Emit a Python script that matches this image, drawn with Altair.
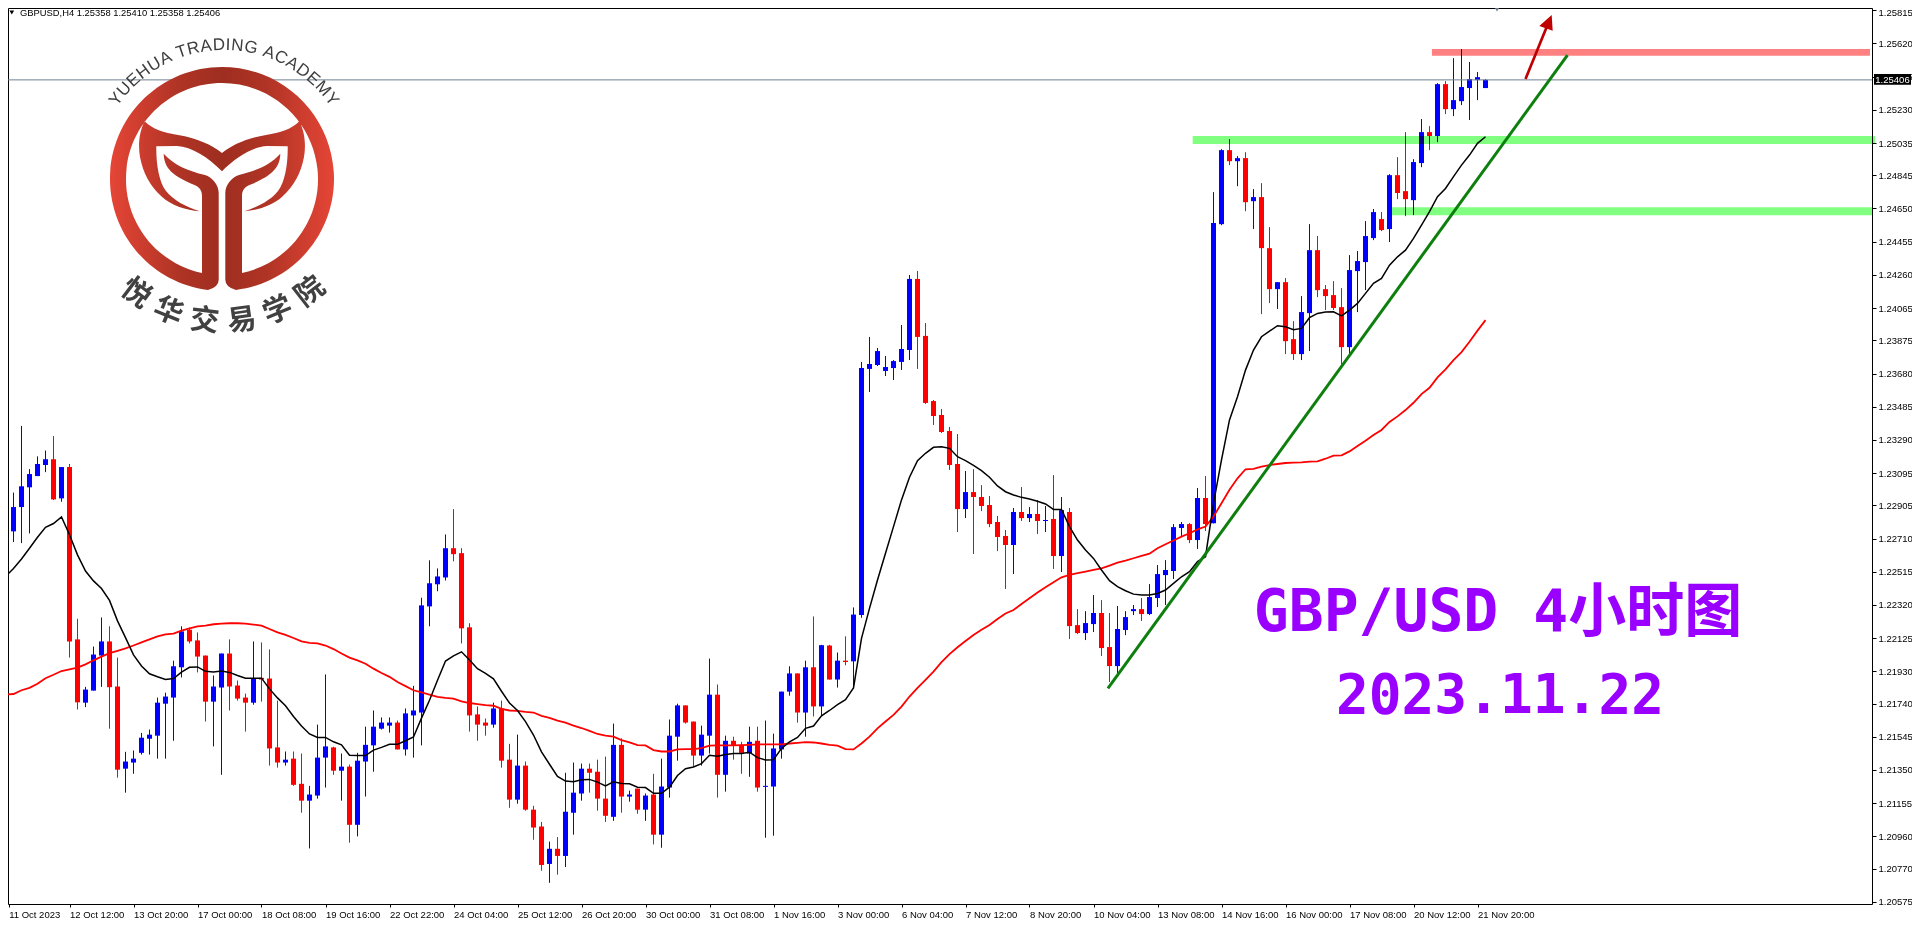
import math
import re

import altair as alt
import numpy as np
import pandas as pd

# GBPUSD H4 candles, prices in points (1/100000)
opens = [
    122924, 122752, 122895, 123011, 123077, 123142, 123176, 122946, 123130, 122117, 121745, 121816,
    122022, 122105, 121840, 121357, 121393, 121450, 121533, 121551, 121739, 121775, 121953, 122174,
    122111, 122022, 121751, 121834, 122034, 121846, 121775, 121745, 121891, 121887, 121482, 121393,
    121416, 121268, 121169, 121199, 121422, 121482, 121345, 121369, 121027, 121399, 121494, 121592,
    121610, 121628, 121470, 121670, 121687, 122311, 122441, 122481, 122653, 122624, 122188, 121676,
    121628, 121616, 121711, 121410, 121175, 121375, 121116, 121017, 120797, 120886, 120844, 121098,
    121211, 121357, 121339, 121181, 121074, 121497, 121193, 121240, 121116, 121205, 120969, 121246,
    121545, 121729, 121634, 121434, 121551, 121792, 121321, 121521, 121497, 121446, 121521, 121250,
    121252, 121470, 121810, 121917, 121687, 121953, 121723, 122081, 121881, 121992, 121988, 122260,
    123707, 123730, 123695, 123712, 123748, 123818, 124236, 123901, 123518, 123436, 123342, 123148,
    122883, 122983, 122954, 122907, 122807, 122725, 122672, 122866, 122830, 122854, 122813, 122825,
    122607, 122866, 122201, 122154, 122207, 122272, 122072, 121960, 122172, 122283, 122295, 122266,
    122360, 122495, 122519, 122772, 122795, 122701, 122948, 122799, 124558, 124993, 124928, 124946,
    124693, 124717, 124417, 124176, 124217, 123882, 123794, 124035, 124405, 124176, 124141, 124070,
    123835, 124282, 124335, 124476, 124588, 124529, 124846, 124752, 124699, 124917, 125099, 125076,
    125381, 125234, 125281, 125358, 125405, 125358,
]
highs = [
    123039, 122980, 123372, 123118, 123193, 123227, 123312, 123130, 123148, 122238, 121838, 122075,
    122246, 122194, 122010, 121456, 121464, 121567, 121587, 121775, 121804, 121992, 122194, 122186,
    122158, 122022, 121905, 122034, 122117, 121875, 121798, 122105, 122099, 122058, 121757, 121458,
    121458, 121446, 121256, 121616, 121911, 121486, 121446, 121381, 121450, 121604, 121699, 121658,
    121658, 121640, 121711, 121844, 122362, 122582, 122534, 122734, 122883, 122653, 122212, 121723,
    121652, 121745, 121757, 121503, 121557, 121399, 121139, 121044, 120928, 120955, 121333, 121393,
    121387, 121387, 121410, 121428, 121622, 121535, 121228, 121240, 121211, 121327, 121416, 121646,
    121739, 121729, 121634, 121610, 122004, 121852, 121551, 121545, 121515, 121604, 121604, 121640,
    121563, 121810, 121959, 121917, 121992, 122252, 122085, 122085, 122040, 122135, 122305, 123748,
    123895, 123830, 123783, 123759, 123965, 124259, 124283, 123977, 123524, 123471, 123366, 123324,
    123107, 123118, 123024, 122960, 122842, 122760, 122889, 123013, 122895, 122936, 122901, 123083,
    122954, 122889, 122295, 122283, 122378, 122348, 122272, 122313, 122283, 122319, 122360, 122442,
    122554, 122583, 122795, 122807, 122801, 123007, 123077, 124746, 124999, 125058, 124958, 124981,
    124764, 124799, 124541, 124217, 124241, 123988, 124135, 124558, 124488, 124200, 124223, 124182,
    124376, 124400, 124576, 124647, 124629, 124852, 124952, 125099, 124940, 125176, 125134, 125387,
    125399, 125534, 125587, 125511, 125452, 125410,
]
lows = [
    122693, 122689, 122683, 122740, 123077, 123100, 122936, 122926, 122010, 121705, 121719, 121816,
    121838, 121592, 121304, 121216, 121327, 121440, 121440, 121416, 121416, 121521, 121893, 122093,
    121923, 121634, 121488, 121321, 121699, 121757, 121575, 121733, 121751, 121375, 121363, 121375,
    121256, 121098, 120888, 121181, 121246, 121321, 121169, 120922, 120959, 121193, 121339, 121587,
    121569, 121470, 121434, 121422, 121494, 122194, 122400, 122463, 122576, 122093, 121575, 121521,
    121551, 121598, 121363, 121127, 121151, 121110, 120939, 120757, 120686, 120734, 120779, 120969,
    121169, 121216, 121110, 121044, 121050, 121098, 121163, 121092, 121050, 120912, 120892, 121187,
    121404, 121622, 121369, 121375, 121446, 121187, 121222, 121410, 121327, 121309, 121222, 120951,
    120963, 121416, 121786, 121628, 121545, 121664, 121670, 121881, 121834, 121965, 121842, 122244,
    123571, 123724, 123665, 123642, 123701, 123759, 123707, 123501, 123377, 123330, 123113, 122748,
    122830, 122619, 122871, 122777, 122636, 122413, 122501, 122813, 122807, 122736, 122748, 122531,
    122513, 122119, 122148, 122113, 122160, 122019, 121866, 121917, 122142, 122260, 122225, 122260,
    122307, 122319, 122472, 122725, 122683, 122648, 122754, 122799, 124552, 124905, 124781, 124634,
    124529, 124029, 124094, 124059, 123794, 123759, 123759, 123812, 124129, 124053, 124053, 123735,
    123798, 124041, 124170, 124464, 124517, 124453, 124705, 124605, 124611, 124893, 124993, 125040,
    125205, 125193, 125258, 125170, 125287, 125358,
]
closes = [
    122752, 122895, 123017, 123089, 123148, 123176, 122940, 123130, 122105, 121747, 121822, 122028,
    122105, 121836, 121351, 121399, 121416, 121539, 121557, 121745, 121781, 121959, 122164, 122105,
    122016, 121751, 121840, 122034, 121840, 121769, 121745, 121887, 121881, 121476, 121393, 121410,
    121262, 121169, 121205, 121422, 121488, 121345, 121369, 121027, 121404, 121497, 121604, 121628,
    121628, 121470, 121682, 121699, 122317, 122447, 122487, 122653, 122618, 122182, 121670, 121616,
    121610, 121711, 121404, 121175, 121375, 121116, 121011, 120791, 120886, 120844, 121104, 121216,
    121357, 121333, 121181, 121080, 121497, 121193, 121205, 121116, 121199, 120969, 121252, 121551,
    121729, 121628, 121434, 121557, 121792, 121321, 121521, 121494, 121450, 121515, 121246, 121256,
    121476, 121810, 121917, 121687, 121953, 121723, 122083, 121881, 121992, 121984, 122263, 123713,
    123736, 123812, 123718, 123753, 123824, 124236, 123895, 123507, 123430, 123336, 123142, 122883,
    122983, 122954, 122901, 122795, 122719, 122672, 122866, 122830, 122854, 122813, 122819, 122607,
    122877, 122195, 122154, 122213, 122272, 122066, 121960, 122178, 122248, 122295, 122266, 122366,
    122501, 122525, 122777, 122795, 122701, 122948, 122795, 124564, 124993, 124928, 124946, 124687,
    124717, 124417, 124176, 124217, 123870, 123794, 124041, 124405, 124170, 124135, 124065, 123835,
    124288, 124341, 124488, 124629, 124523, 124846, 124741, 124705, 124923, 125099, 125076, 125381,
    125234, 125287, 125364, 125411, 125422, 125406,
]
# fast moving average (black)
fast_ma = [
    122487, 122534, 122590, 122653, 122717, 122776, 122798, 122837, 122732, 122614, 122519, 122461,
    122416, 122346, 122226, 122127, 122026, 121961, 121915, 121897, 121881, 121887, 121925, 121953,
    121955, 121929, 121925, 121931, 121923, 121905, 121889, 121889, 121889, 121826, 121773, 121727,
    121664, 121608, 121561, 121541, 121541, 121515, 121497, 121436, 121434, 121434, 121466, 121482,
    121500, 121500, 121521, 121543, 121654, 121759, 121877, 121990, 122020, 122044, 121996, 121945,
    121917, 121885, 121812, 121743, 121699, 121634, 121555, 121456, 121383, 121311, 121284, 121280,
    121292, 121294, 121278, 121256, 121280, 121270, 121268, 121248, 121246, 121212, 121212, 121248,
    121317, 121357, 121367, 121387, 121436, 121430, 121440, 121446, 121446, 121454, 121422, 121408,
    121410, 121476, 121515, 121541, 121594, 121608, 121668, 121699, 121733, 121763, 121832, 122123,
    122299, 122466, 122623, 122780, 122937, 123070, 123168, 123211, 123246, 123250, 123240, 123191,
    123168, 123140, 123109, 123070, 123019, 122985, 122966, 122952, 122942, 122929, 122913, 122881,
    122881, 122780, 122701, 122642, 122593, 122525, 122462, 122427, 122403, 122383, 122378, 122378,
    122387, 122407, 122446, 122485, 122515, 122574, 122603, 122917, 123172, 123407, 123543, 123700,
    123818, 123896, 123929, 123961, 123955, 123937, 123945, 124008, 124033, 124041, 124043, 124019,
    124053, 124092, 124151, 124210, 124239, 124317, 124366, 124405, 124474, 124552, 124631, 124719,
    124768, 124837, 124905, 124964, 125033, 125072,
]
# slow moving average (red)
slow_ma = [
    121792, 121796, 121818, 121832, 121856, 121889, 121909, 121931, 121941, 121951, 121970, 121994,
    122016, 122036, 122050, 122064, 122081, 122099, 122117, 122135, 122147, 122151, 122168, 122182,
    122194, 122198, 122206, 122210, 122212, 122212, 122210, 122204, 122198, 122178, 122158, 122143,
    122125, 122105, 122097, 122093, 122081, 122060, 122034, 122010, 121994, 121974, 121945, 121919,
    121897, 121866, 121842, 121818, 121806, 121792, 121779, 121773, 121769, 121753, 121743, 121737,
    121731, 121727, 121709, 121699, 121697, 121691, 121687, 121668, 121656, 121640, 121628, 121610,
    121596, 121579, 121561, 121551, 121545, 121525, 121511, 121495, 121494, 121466, 121458, 121458,
    121470, 121472, 121472, 121478, 121492, 121494, 121494, 121494, 121495, 121497, 121500, 121500,
    121500, 121500, 121505, 121509, 121513, 121511, 121505, 121497, 121492, 121472, 121470, 121505,
    121545, 121594, 121634, 121673, 121722, 121781, 121832, 121879, 121928, 121983, 122030, 122071,
    122108, 122143, 122173, 122202, 122237, 122269, 122290, 122325, 122359, 122392, 122423, 122453,
    122482, 122496, 122506, 122516, 122525, 122535, 122551, 122568, 122580, 122594, 122608, 122621,
    122653, 122676, 122698, 122721, 122741, 122764, 122780, 122839, 122917, 122996, 123064, 123117,
    123119, 123132, 123142, 123148, 123154, 123156, 123158, 123162, 123164, 123179, 123197, 123199,
    123222, 123254, 123285, 123318, 123348, 123395, 123428, 123465, 123508, 123559, 123596, 123657,
    123704, 123759, 123806, 123867, 123932, 123994,
]
price_ticks = [
    1.25815, 1.25620, 1.25425, 1.25230, 1.25035, 1.24845, 1.24650, 1.24455, 1.24260, 1.24065,
    1.23875, 1.23680, 1.23485, 1.23290, 1.23095, 1.22905, 1.22710, 1.22515, 1.22320, 1.22125,
    1.21930, 1.21740, 1.21545, 1.21350, 1.21155, 1.20960, 1.20770, 1.20575,
]
time_labels = [
    "11 Oct 2023", "12 Oct 12:00", "13 Oct 20:00", "17 Oct 00:00", "18 Oct 08:00", "19 Oct 16:00",
    "22 Oct 22:00", "24 Oct 04:00", "25 Oct 12:00", "26 Oct 20:00", "30 Oct 00:00", "31 Oct 08:00",
    "1 Nov 16:00", "3 Nov 00:00", "6 Nov 04:00", "7 Nov 12:00", "8 Nov 20:00", "10 Nov 04:00",
    "13 Nov 08:00", "14 Nov 16:00", "16 Nov 00:00", "17 Nov 08:00", "20 Nov 12:00", "21 Nov 20:00",
]
last_price = 1.25406
band_names = ["resistance", "support1", "support2"]
band_start = [178.3, 148.4, 173.3]
band_end = [233.06, 233.7, 233.31]
band_top = [1.25587, 1.25076, 1.24658]
band_bottom = [1.25548, 1.25029, 1.24611]
band_colors = ["#FF8080", "#80FF80", "#80FF80"]
trend_x = [137.8, 195.25]
trend_y = [1.21829, 1.25552]
arrow_x = [190.0, 192.66]
arrow_y = [1.25411, 1.25719]

PLOT_W = 1864
PLOT_H = 896
LABEL_FONT = "Liberation Sans"

df = pd.DataFrame({
    "i": range(len(closes)),
    "open": np.array(opens) / 1e5,
    "high": np.array(highs) / 1e5,
    "low": np.array(lows) / 1e5,
    "close": np.array(closes) / 1e5,
    "fast": np.array(fast_ma) / 1e5,
    "slow": np.array(slow_ma) / 1e5,
})
df["color"] = np.where(df["close"] >= df["open"], "#0000FF", "#FF0000")

x_scale = alt.Scale(domain=[0.3125, 233.3125], padding=0)
y_scale = alt.Scale(domain=[1.205615, 1.258286])
label_expr = "[" + ",".join(f"'{t}'" for t in time_labels) + "][floor(datum.value / 8)]"
x_ticks = [0.4] + [8 * k for k in range(1, len(time_labels))]
x_axis = alt.Axis(
    values=x_ticks, labelExpr=label_expr, labelAlign="left", labelFont=LABEL_FONT, labelFontSize=9.5,
    labelColor="black", labelOverlap=False, labelPadding=2, tickSize=3, tickColor="black", domain=False,
    grid=False, labelFlush=False)
# top label nudged down, it would touch the page edge otherwise
y_axis = alt.Axis(
    orient="right", values=price_ticks, format=".5f", labelFont=LABEL_FONT, labelFontSize=9.5,
    labelColor="black", labelOverlap=False, labelPadding=2, tickSize=4, tickColor="black", domain=False,
    grid=False, labelFlush=False,
    labelOffset={"condition": {"test": "datum.value > 1.258", "value": 2}, "value": 0})


def X(field):
    return alt.X(field, scale=x_scale, axis=x_axis, title=None)


def Y(field):
    return alt.Y(field, scale=y_scale, axis=y_axis, title=None)


base = alt.Chart(df)
wicks = base.mark_rule(strokeWidth=1).encode(
    x=X("i:Q"), y=Y("low:Q"), y2="high:Q", color=alt.Color("color:N", scale=None))
bodies = base.mark_bar(size=5).encode(
    x=X("i:Q"), y=Y("open:Q"), y2="close:Q", color=alt.Color("color:N", scale=None))
slow_line = base.mark_line(color="#FF0000", strokeWidth=1.8).encode(x=X("i:Q"), y=Y("slow:Q"))
fast_line = base.mark_line(color="#000000", strokeWidth=1.5).encode(x=X("i:Q"), y=Y("fast:Q"))

# current price line
price_line = alt.Chart(pd.DataFrame({"p": [last_price]})).mark_rule(color="#708090", strokeWidth=1).encode(
    y=Y("p:Q"))

# hand drawn objects: zones, trend line, arrow
bands = alt.Chart(pd.DataFrame({
    "name": band_names, "x0": band_start, "x1": band_end, "top": band_top, "bottom": band_bottom, "c": band_colors,
})).mark_rect(blend="multiply").encode(
    x=X("x0:Q"), x2="x1:Q", y=Y("bottom:Q"), y2="top:Q", color=alt.Color("c:N", scale=None))
trend = alt.Chart(pd.DataFrame({"x": trend_x, "y": trend_y})).mark_line(color="#0D7F0D", strokeWidth=3).encode(
    x=X("x:Q"), y=Y("y:Q"))
arrow = alt.Chart(pd.DataFrame({"x": arrow_x, "y": arrow_y})).mark_line(color="#C00000", strokeWidth=2.7).encode(
    x=X("x:Q"), y=Y("y:Q"))

one = pd.DataFrame({"a": [1]})


def shape(path, px, py, **kw):
    # size=4 keeps the custom path in plain pixels
    return alt.Chart(one).mark_point(shape=path, size=4, filled=True, opacity=1, strokeWidth=0, **kw).encode(
        x=alt.value(px), y=alt.value(py))


def label(text, px, py, **kw):
    return alt.Chart(pd.DataFrame({"t": [text]})).mark_text(**kw).encode(
        x=alt.value(px), y=alt.value(py), text="t:N")


arrow_head = shape("M0,0L1,15.7L-12.4,11Z", 1543.7, 7, fill="#C00000")
shift_mark = alt.Chart(one).mark_point(shape="triangle-down", size=70, filled=True, opacity=1, fill="#708090",
                                       strokeWidth=0).encode(x=alt.value(1489), y=alt.value(0))
menu_mark = alt.Chart(one).mark_point(shape="triangle-down", size=22, filled=True, opacity=1, fill="black",
                                      strokeWidth=0).encode(x=alt.value(3.8), y=alt.value(4.5))
header = label("GBPUSD,H4  1.25358 1.25410 1.25358 1.25406", 12, 5, align="left", baseline="middle",
               font=LABEL_FONT, fontSize=9.4, color="black")
price_box = alt.Chart(one).mark_rect(color="black").encode(
    x=alt.value(1866), x2=alt.value(1903), y=alt.value(66), y2=alt.value(76.7))
price_text = label(f"{last_price:.5f}", 1884.5, 71.5, align="center", baseline="middle", font=LABEL_FONT,
                   fontSize=9.5, color="white")

title1 = label("GBP/USD 4小时图", 1490, 606, align="center", baseline="middle", fontSize=58, fontWeight="bold",
               font="DejaVu Sans Mono, Noto Sans CJK SC", color="#9900FF")
title2 = label("2023.11.22", 1492, 689, align="center", baseline="middle", fontSize=54.5, fontWeight="bold",
               font="DejaVu Sans Mono", color="#9900FF")

# logo, path in pixels around the ring centre
LOGO_X, LOGO_Y = 214, 171
RING = ("M-14,111A112,112,0,1,1,14,111Q3.3,108,3.3,100.7L3.3,94L20,94A96,96,0,1,0,-20,94L-3.3,94L-3.3,100.7"
        "Q-3.3,108,-14,111Z")
HORN = ("M0,-26C-10,-34,-25,-41,-44,-44C-58,-46,-70,-50,-77.3,-57.7C-83,-47,-84,-33,-82,-22C-79,-6,-72,7,-60.7,17.3"
        "C-50,27,-36,31,-22.3,32.3C-36,28,-49,21,-56,12C-63,3,-66,-15,-65.7,-32.7L-45,-33C-30,-32,-14,-22,0,-7.7Z")
STEM = ("M-58.3,-25.3C-48,-14,-34,-8,-17,-4C-10,-2,-3.3,6,-3.3,14L-3.3,94L-20,94L-20,17C-20,9,-25,7,-30,5"
        "C-48,-3,-58,-10,-58.3,-25.3Z")


def mirror(path):
    n = [0]

    def flip(m):
        n[0] += 1
        v = float(m.group())
        return str(-v) if n[0] % 2 == 1 else str(v)

    return re.sub(r"-?\d+\.?\d*", flip, path)


logo_fill = alt.Gradient(
    gradient="linear", x1=0, y1=0, x2=1, y2=0,
    stops=[alt.GradientStop(offset=0, color="#E54536"), alt.GradientStop(offset=0.3, color="#B03425"),
           alt.GradientStop(offset=0.5, color="#9E2E20"), alt.GradientStop(offset=0.7, color="#B03425"),
           alt.GradientStop(offset=1, color="#E54536")])
logo = shape(RING + HORN + mirror(HORN) + STEM + mirror(STEM), LOGO_X, LOGO_Y, fill=logo_fill)

top_text = "YUEHUA TRADING ACADEMY"
char_w = {"Y": .667, "U": .722, "E": .667, "H": .722, "A": .667, " ": .278, "T": .611, "R": .722, "D": .722,
          "I": .278, "N": .722, "G": .778, "C": .722, "M": .833}
total = sum(char_w[c] for c in top_text) - (char_w["Y"])
rows = []
run = 0
for pos, c in enumerate(top_text):
    w = char_w[c]
    if pos > 0:
        run += (char_w[top_text[pos - 1]] + w) / 2
    theta = -53.5 + 107 * run / total
    if c != " ":
        rows.append({"ch": c, "px": LOGO_X + 2 + 134 * math.sin(math.radians(theta)),
                     "py": LOGO_Y - 134 * math.cos(math.radians(theta)), "angle": theta % 360})
top_chars = alt.Chart(pd.DataFrame(rows)).mark_text(
    font=LABEL_FONT, fontSize=17, color="#3E3E3E", align="center", baseline="middle").encode(
    x=alt.X("px:Q", scale=None, axis=None), y=alt.Y("py:Q", scale=None, axis=None),
    angle=alt.Angle("angle:Q", scale=None), text="ch:N")

rows = []
for pos, c in enumerate("悦华交易学院"):
    theta = -37 + 15 * pos
    rows.append({"ch": c, "px": LOGO_X + 143 * math.sin(math.radians(theta)),
                 "py": LOGO_Y + 143 * math.cos(math.radians(theta)), "angle": (-theta) % 360})
bottom_chars = alt.Chart(pd.DataFrame(rows)).mark_text(
    font="Noto Sans CJK SC", fontWeight="bold", fontSize=29, color="#414141", align="center",
    baseline="middle").encode(
    x=alt.X("px:Q", scale=None, axis=None), y=alt.Y("py:Q", scale=None, axis=None),
    angle=alt.Angle("angle:Q", scale=None), text="ch:N")

chart = alt.layer(
    wicks, bodies, slow_line, fast_line, price_line, bands, trend, arrow, arrow_head, shift_mark,
    logo, top_chars, bottom_chars, menu_mark, header, title1, title2, price_box, price_text,
).properties(
    width=PLOT_W,
    height=PLOT_H,
    padding={"left": 0, "top": 0, "right": 40, "bottom": 14},
    autosize=alt.AutoSizeParams(type="none"),
    background="white",
).configure_view(stroke="black", strokeWidth=1)

chart.save("out.html", embed_options={"renderer": "svg", "actions": False})
